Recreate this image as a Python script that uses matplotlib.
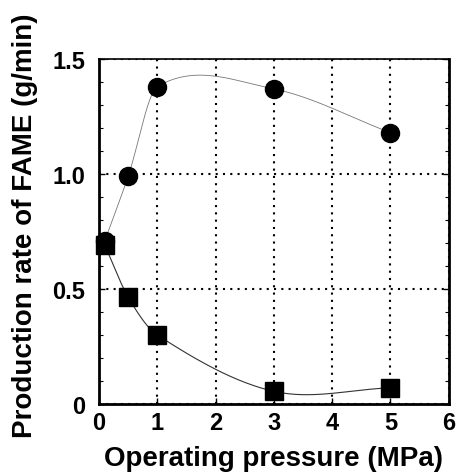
import numpy as np
import matplotlib
matplotlib.use("Agg")
import matplotlib.pyplot as plt
from matplotlib.ticker import MultipleLocator

plt.rcParams['font.family'] = ['Liberation Sans', 'DejaVu Sans']
plt.rcParams['font.weight'] = 'bold'

# Data
circle_x = [0.1, 0.5, 1.0, 3.0, 5.0]
circle_y = [0.71, 0.99, 1.38, 1.37, 1.18]
square_x = [0.1, 0.5, 1.0, 3.0, 5.0]
square_y = [0.69, 0.465, 0.30, 0.055, 0.07]
x_ticks = [0, 1, 2, 3, 4, 5, 6]
y_ticks = [0, 0.5, 1.0, 1.5]
y_tick_labels = ["0", "0.5", "1.0", "1.5"]


def cardinal_curve(x, y, n=60):
    """Cubic Hermite curve through the points, finite-difference tangents."""
    x = np.asarray(x, float)
    y = np.asarray(y, float)
    k = len(x)
    m = np.empty(k)
    m[0] = (y[1] - y[0]) / (x[1] - x[0])
    m[-1] = (y[-1] - y[-2]) / (x[-1] - x[-2])
    for i in range(1, k - 1):
        m[i] = (y[i + 1] - y[i - 1]) / (x[i + 1] - x[i - 1])
    xs_all, ys_all = [], []
    for i in range(k - 1):
        h = x[i + 1] - x[i]
        t = np.linspace(0, 1, n)
        h00 = 2 * t**3 - 3 * t**2 + 1
        h10 = t**3 - 2 * t**2 + t
        h01 = -2 * t**3 + 3 * t**2
        h11 = t**3 - t**2
        xs_all.append(x[i] + t * h)
        ys_all.append(h00 * y[i] + h10 * h * m[i] + h01 * y[i + 1] + h11 * h * m[i + 1])
    return np.concatenate(xs_all), np.concatenate(ys_all)


fig = plt.figure(figsize=(4.59, 4.77), dpi=100)
ax = fig.add_axes([0.2157, 0.151, 0.762, 0.723])

cx, cy = cardinal_curve(circle_x, circle_y)
sx, sy = cardinal_curve(square_x, square_y)
ax.plot(cx, cy, color='#777777', lw=0.6, zorder=2)
ax.plot(sx, sy, color='#333333', lw=0.8, zorder=2)
ax.plot(circle_x, circle_y, 'o', color='black', ms=13, zorder=3, clip_on=False)
ax.plot(square_x, square_y, 's', color='black', ms=13, zorder=3, clip_on=False)

ax.set_xlim(0, 6)
ax.set_ylim(0, 1.5)
ax.set_xticks(x_ticks)
ax.set_yticks(y_ticks)
ax.set_yticklabels(y_tick_labels)
ax.yaxis.set_minor_locator(MultipleLocator(0.1))
ax.grid(True, which='major', color='black', linestyle=(0, (1, 2.5)), lw=1.5)
ax.tick_params(which='both', direction='in', top=False, right=True, labelsize=17)
ax.tick_params(axis='x', pad=5)
ax.tick_params(axis='y', pad=10)
ax.tick_params(which='major', length=4, width=1)
ax.tick_params(which='minor', length=3, width=0.8)
for side in ['left', 'bottom', 'right']:
    ax.spines[side].set_linewidth(2)
ax.spines['top'].set_linewidth(1.2)

ax.set_xlabel('Operating pressure (MPa)', fontsize=20, fontweight='bold', labelpad=8)
ax.set_ylabel('Production rate of FAME (g/min)', fontsize=20, fontweight='bold')
ax.yaxis.set_label_coords(-0.174, 0.519)

fig.savefig('out.png', dpi=100)
